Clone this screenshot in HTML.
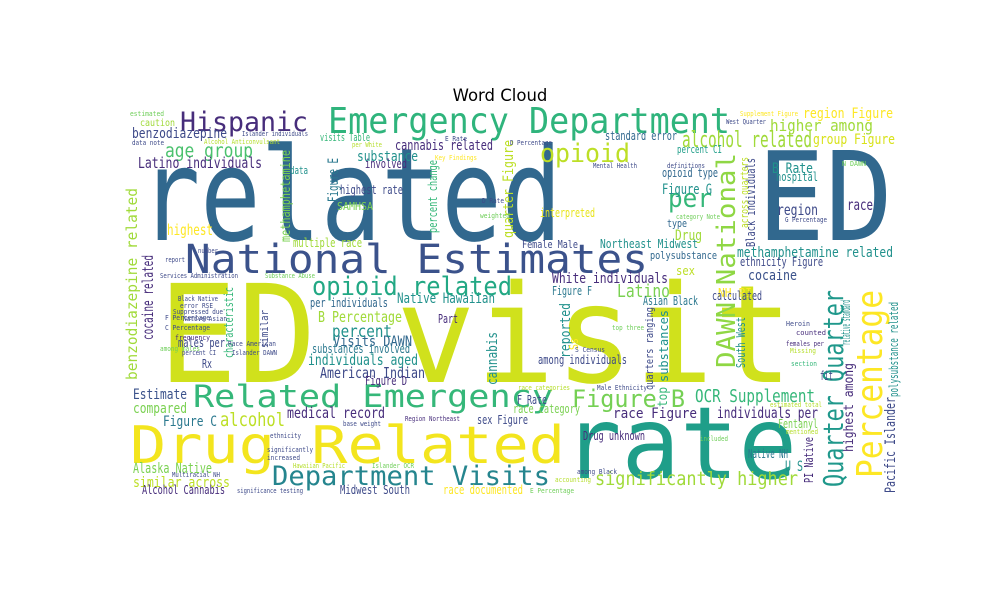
<!DOCTYPE html>
<html><head><meta charset="utf-8"><style>
html,body{margin:0;padding:0;background:#fff;width:1000px;height:600px;overflow:hidden}
svg text{font-family:"DejaVu Sans Mono","Liberation Mono",monospace}
</style></head><body>
<svg id="cloud" width="1000" height="600" viewBox="0 0 1000 600" xmlns="http://www.w3.org/2000/svg">
<rect x="0" y="0" width="1000" height="600" fill="#fff"/>
<text x="500" y="101" text-anchor="middle" style="font-family:'DejaVu Sans','Liberation Sans',sans-serif;font-size:16.5px" fill="#000">Word Cloud</text>
<g id="words"></g>
</svg>
<script>
// word cloud data: text, x, baseline y, font size, length, colour, vertical
const words = [
["related",140,240,129,422,"#31688e",0],
["ED",757,240,123,136,"#31688e",0],
["ED visit",158,382,136,635,"#d0e11c",0],
["rate",563,478,100,234,"#1f9e89",0],
["Drug Related",130,463,52,435,"#f3e51e",0],
["Emergency Department",328,133,36,402,"#2fb47c",0],
["Hispanic",180,131,27,128,"#472d7b",0],
["National Estimates",185,273,40,463,"#3b528b",0],
["opioid related",312,295,26,200,"#22a884",0],
["Related Emergency",193,407,31,360,"#35b779",0],
["Department Visits",272,485,27,278,"#25858e",0],
["Percentage",882,478,36,188,"#fde725",1],
["Quarter Quarter",843,487,28,197,"#1f988b",1],
["DAWN National",735,368,26,215,"#8fd744",1],
["Figure B",572,407,24,113,"#75d054",0],
["opioid",540,162,26,90,"#bddf26",0],
["per",668,207,26,44,"#35b779",0],
["alcohol related",682,147,22,130,"#a0da39",0],
["higher among",770,131,16,103,"#a0da39",0],
["region Figure",803,118,14,90,"#fde725",0],
["group Figure",813,144,14,82,"#d8e219",0],
["standard error",605,140,12,72,"#31688e",0],
["percent CI",677,153,11,45,"#1f9e89",0],
["B Rate",772,173,14,41,"#21918c",0],
["hospital",776,181,12,42,"#21918c",0],
["Figure G",662,194,14,50,"#21918c",0],
["opioid type",662,177,12,56,"#31688e",0],
["region",777,215,15,41,"#3e4a89",0],
["race",847,210,15,26,"#472d7b",0],
["methamphetamine related",737,257,14,156,"#21918c",0],
["ethnicity Figure",740,266,12,83,"#3e4a89",0],
["cocaine",748,280,14,49,"#3b528b",0],
["Latino",617,297,18,53,"#7ad151",0],
["White individuals",552,283,14,116,"#472d7b",0],
["Figure F",552,295,12,40,"#2a788e",0],
["sex",676,275,12,19,"#bddf26",0],
["polysubstance",650,259,11,67,"#31688e",0],
["Northeast Midwest",600,248,12,98,"#21918c",0],
["Female Male",522,248,11,56,"#3e4a89",0],
["interpreted",540,217,12,55,"#e8e419",0],
["Drug",675,240,14,27,"#a0da39",0],
["type",667,227,11,20,"#31688e",0],
["NH PI",718,297,12,34,"#fde725",0],
["Black individuals",755,247,12,89,"#3e4a89",1],
["across quarters",748,228,11,71,"#bddf26",1],
["quarter Figure",513,238,14,98,"#bddf26",1],
["Figure E",338,202,14,44,"#2a788e",1],
["methamphetamine",290,242,13,92,"#7ad151",1],
["percent change",437,233,12,73,"#35b779",1],
["caution",140,126,10,35,"#a0da39",0],
["benzodiazepine",132,138,14,95,"#3e4a89",0],
["age group",165,157,19,88,"#4ac16d",0],
["Latino individuals",138,168,15,124,"#472d7b",0],
["highest",167,235,15,46,"#fde725",0],
["cannabis related",395,150,14,98,"#472d7b",0],
["substance",357,161,14,61,"#21918c",0],
["involved",365,168,12,42,"#472d7b",0],
["visits Table",320,141,11,50,"#35b779",0],
["data",290,174,11,18,"#21918c",0],
["highest rate",340,194,12,63,"#3e4a89",0],
["SAMHSA",337,210,11,36,"#7ad151",0],
["multiple race",293,247,12,69,"#a0da39",0],
["benzodiazepine related",137,380,15,192,"#a0da39",1],
["cocaine related",153,340,15,85,"#472d7b",1],
["characteristic",233,358,12,71,"#35b779",1],
["similar",268,348,11,38,"#3e4a89",1],
["Estimate",133,399,14,54,"#3b528b",0],
["compared",133,413,14,54,"#7ad151",0],
["Figure C",163,426,14,54,"#2a788e",0],
["alcohol",220,426,19,65,"#bddf26",0],
["medical record",287,418,15,98,"#472d7b",0],
["Alaska Native",133,473,14,79,"#7ad151",0],
["similar across",133,487,14,97,"#bddf26",0],
["Alcohol Cannabis",142,494,12,83,"#472d7b",0],
["Midwest South",340,494,12,70,"#3e4a89",0],
["race documented",443,494,12,80,"#fde725",0],
["American Indian",320,378,15,105,"#3e4a89",0],
["individuals aged",308,365,15,110,"#21918c",0],
["substances involved",312,353,12,98,"#2a788e",0],
["Visits DAWN",333,346,14,79,"#31688e",0],
["percent",332,337,17,60,"#21918c",0],
["B Percentage",318,322,15,84,"#a0da39",0],
["per individuals",310,307,12,78,"#31688e",0],
["Native Hawaiian",397,303,14,98,"#21918c",0],
["males per",178,347,12,47,"#3e4a89",0],
["Rx",202,368,12,10,"#3e4a89",0],
["Figure D",365,385,12,42,"#472d7b",0],
["Part",438,323,12,20,"#472d7b",0],
["cannabis",497,385,14,53,"#21918c",1],
["reported",570,358,14,55,"#21918c",1],
["F Rate",517,404,12,30,"#3e4a89",0],
["race category",513,413,12,67,"#7ad151",0],
["sex Figure",477,424,12,51,"#3e4a89",0],
["among individuals",538,364,12,89,"#3e4a89",0],
["Drug unknown",583,440,12,62,"#472d7b",0],
["significantly higher",595,485,19,203,"#a0da39",0],
["individuals per",717,418,15,101,"#472d7b",0],
["race Figure",613,418,14,84,"#472d7b",0],
["OCR Supplement",695,402,18,120,"#35b779",0],
["Fentanyl",778,428,12,40,"#7ad151",0],
["Native NH",748,458,12,40,"#2a788e",0],
["U S",785,471,14,18,"#21918c",0],
["Asian Black",643,305,12,55,"#2a788e",0],
["calculated",712,300,12,50,"#3e4a89",0],
["substances",668,382,12,72,"#21918c",1],
["quarters ranging",653,390,11,83,"#3e4a89",1],
["top",667,407,13,20,"#35b779",1],
["South West",745,368,12,51,"#21918c",1],
["highest among",853,452,13,89,"#472d7b",1],
["relative standard",850,345,12,45,"#21918c",1],
["PI Native",813,483,12,46,"#472d7b",1],
["Pacific Islander",895,493,14,96,"#3e4a89",1],
["polysubstance related",898,397,12,95,"#21918c",1],
["fit",820,380,12,13,"#3e4a89",0],
["Ss",578,350,12,12,"#fde725",1],
["estimated",130,116,7,34,"#6ece58",0],
["data note",132,145,7,32,"#3e4a89",0],
["Islander individuals",242,136,7,66,"#3e4a89",0],
["Alcohol Anticonvulsant",204,144,7,76,"#b5de2b",0],
["F Percentage",165,320,7,45,"#3e4a89",0],
["C Percentage",165,330,7,45,"#3e4a89",0],
["frequency",175,340,7,35,"#472d7b",0],
["among males",160,351,7,40,"#6ece58",0],
["Race American",228,346,7,48,"#3e4a89",0],
["Islander DAWN",232,355,7,45,"#3e4a89",0],
["Services Administration",160,278,7,78,"#3e4a89",0],
["Substance Abuse",265,278,7,50,"#6ece58",0],
["Black Native",178,301,7,40,"#3e4a89",0],
["error RSE",180,308,7,33,"#3e4a89",0],
["Suppressed due",173,314,7,50,"#3e4a89",0],
["Native Asian",183,321,7,44,"#3e4a89",0],
["percent CI",182,355,7,34,"#3e4a89",0],
["significance testing",237,493,7,66,"#3e4a89",0],
["Hawaiian Pacific",293,468,7,52,"#b5de2b",0],
["Islander OCR",372,468,7,42,"#6ece58",0],
["significantly",267,452,7,46,"#3e4a89",0],
["increased",267,460,7,33,"#3e4a89",0],
["ethnicity",270,438,7,31,"#3e4a89",0],
["Multiracial NH",172,477,7,48,"#3e4a89",0],
["base weight",343,426,7,38,"#3e4a89",0],
["Region Northeast",405,421,7,55,"#472d7b",0],
["race categories",518,390,7,52,"#b5de2b",0],
["Male Ethnicity",597,390,7,50,"#3e4a89",0],
["E Percentage",530,493,7,44,"#6ece58",0],
["top three",612,330,7,32,"#6ece58",0],
["S Census",575,352,7,30,"#3e4a89",0],
["Heroin",786,326,7,24,"#3e4a89",0],
["counted",796,335,7,30,"#472d7b",0],
["females per",786,346,7,38,"#472d7b",0],
["Missing",790,353,7,26,"#b5de2b",0],
["section",791,366,7,26,"#35b779",0],
["estimated total",770,407,7,52,"#b5de2b",0],
["mentioned",786,434,7,32,"#b5de2b",0],
["Supplement Figure",740,116,7,58,"#fde725",0],
["West Quarter",726,124,7,40,"#3e4a89",0],
["Key Findings",435,160,7,42,"#fde725",0],
["D Percentage",510,145,7,42,"#3e4a89",0],
["E Rate",445,141,7,22,"#3e4a89",0],
["per White",352,147,7,30,"#b5de2b",0],
["Mental Health",593,168,7,44,"#3e4a89",0],
["definitions",667,168,7,38,"#3e4a89",0],
["D Rate",482,203,7,22,"#3e4a89",0],
["weighted",480,218,7,30,"#6ece58",0],
["category Note",676,219,7,44,"#6ece58",0],
["G Percentage",785,222,7,42,"#3e4a89",0],
["N DAWN",842,166,7,24,"#6ece58",0],
["report",165,262,7,20,"#3e4a89",0],
["number",198,253,7,20,"#3e4a89",0],
["included",700,441,7,28,"#6ece58",0],
["among Black",577,474,7,40,"#3e4a89",0],
["accounting",555,482,7,36,"#b5de2b",0]
];

const g = document.getElementById('words');
const NS = 'http://www.w3.org/2000/svg';
for (const w of words) {
  const t = document.createElementNS(NS, 'text');
  
  
  t.setAttribute('x', w[1]);
  t.setAttribute('y', w[2]);
  t.setAttribute('font-size', w[3]);
  t.setAttribute('textLength', w[4]);
  t.setAttribute('lengthAdjust', 'spacingAndGlyphs');
  t.setAttribute('fill', w[5]);
  if (w[6]) t.setAttribute('transform', 'rotate(-90 ' + w[1] + ' ' + w[2] + ')');
  t.textContent = w[0];
  g.appendChild(t);
}
</script>
</body></html>
